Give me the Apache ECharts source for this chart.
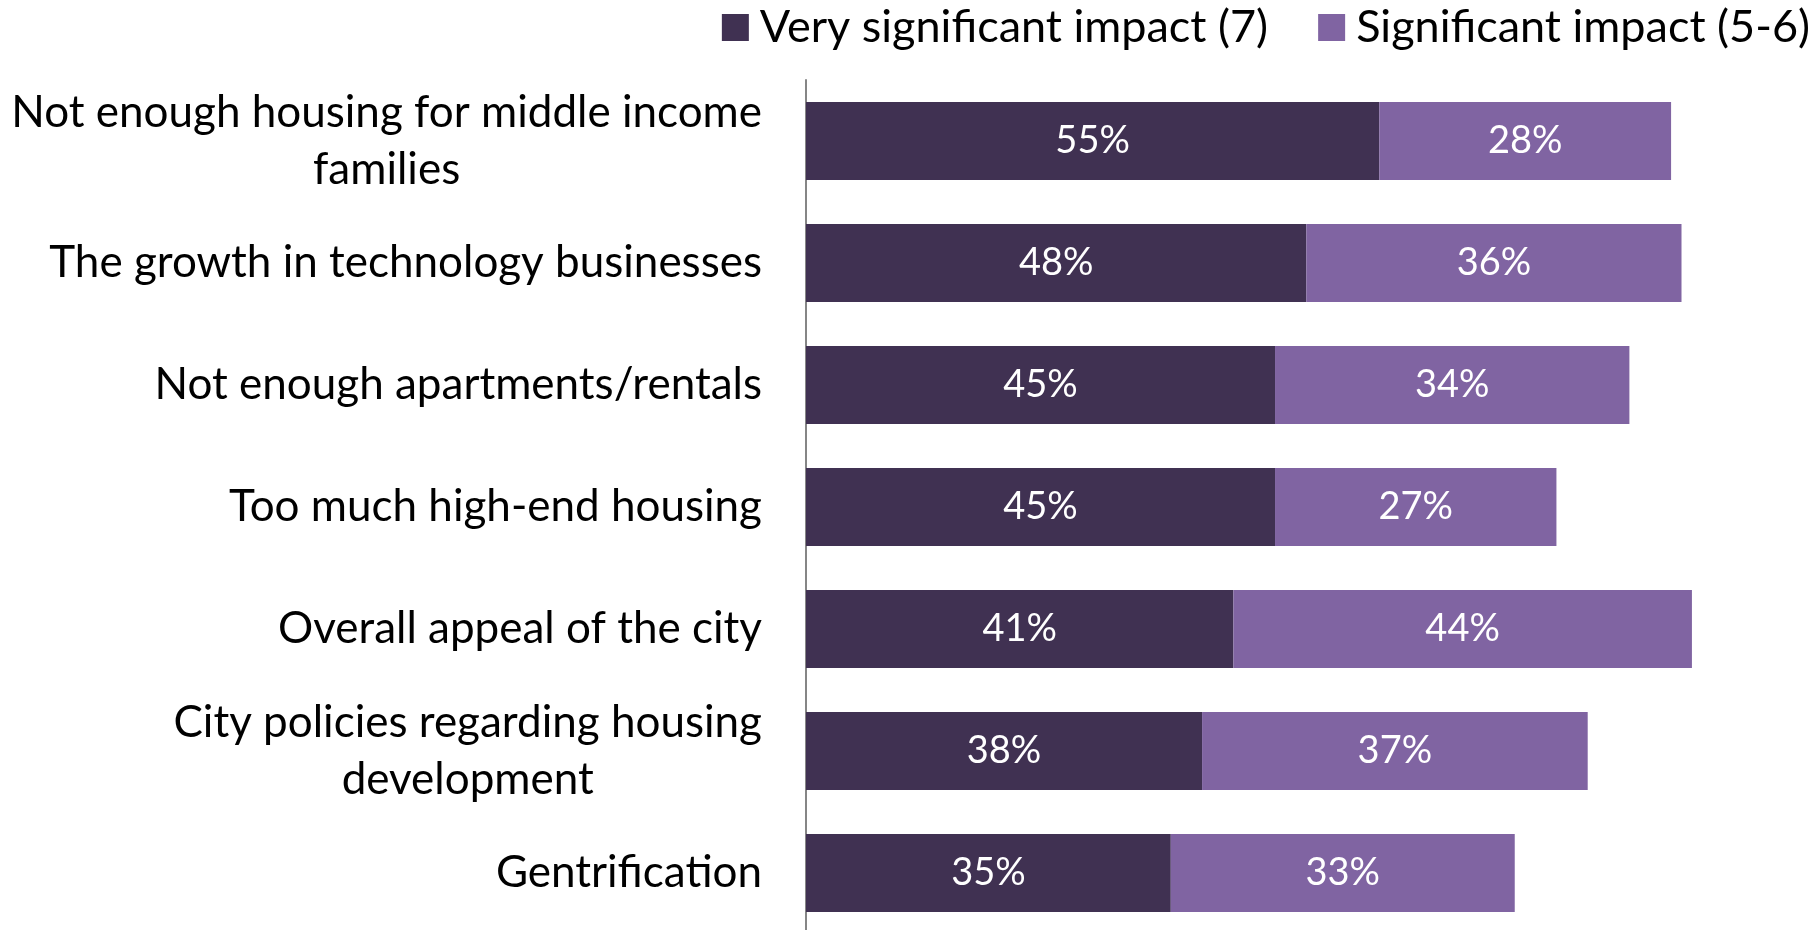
<!DOCTYPE html>
<html>
<head>
<meta charset="utf-8">
<script src="https://cdn.jsdelivr.net/npm/echarts@6/dist/echarts.min.js"></script>
<style>
  html, body { margin: 0; padding: 0; background: #fff; }
  #chart { width: 1819px; height: 930px; }
</style>
</head>
<body>
<div id="chart"></div>
<script>
const categories = [
  'Not enough housing for middle income\nfamilies',
  'The growth in technology businesses',
  'Not enough apartments/rentals',
  'Too much high-end housing',
  'Overall appeal of the city',
  'City policies regarding housing\ndevelopment',
  'Gentrification'
];
const verySignificant = [55, 48, 45, 45, 41, 38, 35];
const significant = [28, 36, 34, 27, 44, 37, 33];
const seriesNames = ['Very significant impact (7)', 'Significant impact (5-6)'];

const FONT = 'Lato';

const chart = echarts.init(document.getElementById('chart'));
const option = {
  backgroundColor: '#fff',
  animation: false,
  textStyle: { fontFamily: FONT },
  legend: {
    data: seriesNames,
    right: 4,
    top: 0,
    itemWidth: 27,
    itemHeight: 27,
    itemGap: 50,
    icon: 'rect',
    textStyle: { fontSize: 45, color: '#000', fontFamily: FONT, padding: [0, 0, 0, 6] }
  },
  grid: { left: 806, width: 1011, top: 80, height: 854, containLabel: false, outerBoundsMode: 'none' },
  xAxis: { type: 'value', min: 0, max: 97, show: false },
  yAxis: {
    type: 'category',
    inverse: true,
    data: categories,
    axisLine: { show: true, lineStyle: { color: '#868686', width: 2 } },
    axisTick: { show: false },
    axisLabel: {
      margin: 44,
      color: '#000',
      fontSize: 44,
      fontFamily: FONT,
      lineHeight: 57,
      formatter: (v) => v.split('\n').map(s => '{c|' + s + '}').join('\n'),
      rich: { c: { align: 'center', fontSize: 44, lineHeight: 57, color: '#000', fontFamily: FONT } }
    }
  },
  series: [
    {
      name: seriesNames[0],
      type: 'bar',
      stack: 'total',
      barCategoryGap: '36%',
      itemStyle: { color: '#403152' },
      label: { show: true, position: 'inside', color: '#fff', fontSize: 38, fontFamily: FONT, formatter: '{c}%' },
      data: verySignificant
    },
    {
      name: seriesNames[1],
      type: 'bar',
      stack: 'total',
      barCategoryGap: '36%',
      itemStyle: { color: '#8064A2' },
      label: { show: true, position: 'inside', color: '#fff', fontSize: 38, fontFamily: FONT, formatter: '{c}%' },
      data: significant
    }
  ]
};
chart.setOption(option);
</script>
</body>
</html>
